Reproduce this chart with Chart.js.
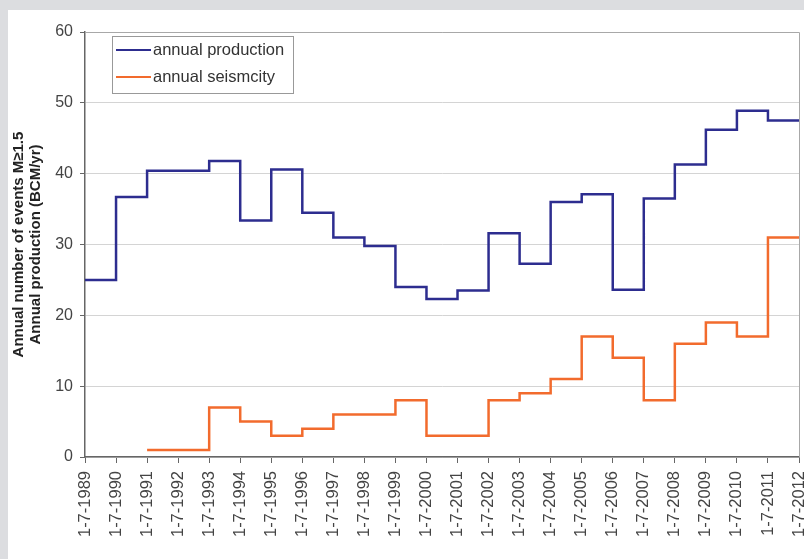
<!DOCTYPE html>
<html>
<head>
<meta charset="utf-8">
<script src="https://cdn.jsdelivr.net/npm/chart.js@4/dist/chart.umd.min.js"></script>
<style>
  html, body { margin: 0; padding: 0; background: #dcdde0; }
  body { width: 804px; height: 559px; overflow: hidden; position: relative; }
  #panel { position: absolute; left: 8px; top: 10px; width: 796px; height: 549px; background: #fff; }
</style>
</head>
<body>
<div id="panel"><canvas id="gasChart" width="796" height="549"></canvas></div>
<script>
// Jahreslabels (1. Juli jedes Jahres)
const years = ['1-7-1989','1-7-1990','1-7-1991','1-7-1992','1-7-1993','1-7-1994','1-7-1995','1-7-1996',
  '1-7-1997','1-7-1998','1-7-1999','1-7-2000','1-7-2001','1-7-2002','1-7-2003','1-7-2004','1-7-2005',
  '1-7-2006','1-7-2007','1-7-2008','1-7-2009','1-7-2010','1-7-2011','1-7-2012'];

// Werte pro Jahr (gilt jeweils bis zum nächsten 1. Juli)
const production = [25, 36.7, 40.4, 40.4, 41.8, 33.4, 40.6, 34.5, 31, 29.8, 24, 22.3, 23.5,
  31.6, 27.3, 36, 37.1, 23.6, 36.5, 41.3, 46.2, 48.9, 47.5];
const seismicity = [null, null, 1, 1, 7, 5, 3, 4, 6, 6, 8, 3, 3, 8, 9, 11, 17, 14, 8, 16, 19, 17, 31];

const yTicks = [0, 10, 20, 30, 40, 50, 60];

const blue = '#2d2d8f';
const orange = '#f26b2d';
const fontFamily = '"Liberation Sans", Arial, sans-serif';

// letzter Wert wird bis 2012 weitergezogen
function withEnd(arr) {
    return arr.concat([arr[arr.length - 1]]);
}

// Rahmen + Legende innerhalb der Plotfläche
const innerLegend = {
    id: 'innerLegend',
    afterDraw(chart) {
        const { ctx, chartArea } = chart;
        ctx.save();
        ctx.strokeStyle = '#a8a8a8';
        ctx.lineWidth = 1;
        ctx.beginPath();
        ctx.moveTo(chartArea.left, chartArea.top + 0.5);
        ctx.lineTo(chartArea.right + 0.5, chartArea.top + 0.5);
        ctx.lineTo(chartArea.right + 0.5, chartArea.bottom);
        ctx.stroke();

        const x = chartArea.left + 27;
        const y = chartArea.top + 4;
        ctx.fillStyle = '#fff';
        ctx.fillRect(x, y, 181, 57);
        ctx.strokeStyle = '#999';
        ctx.strokeRect(x + 0.5, y + 0.5, 181, 57);
        ctx.font = '16.5px ' + fontFamily;
        ctx.textBaseline = 'middle';
        chart.data.datasets.forEach((ds, i) => {
            const ly = y + 14 + i * 27;
            ctx.strokeStyle = ds.borderColor;
            ctx.lineWidth = 2;
            ctx.beginPath();
            ctx.moveTo(x + 4, ly);
            ctx.lineTo(x + 39, ly);
            ctx.stroke();
            ctx.fillStyle = '#333';
            ctx.fillText(ds.label, x + 41, ly);
        });
        ctx.restore();
    }
};

const ctx = document.getElementById('gasChart').getContext('2d');
new Chart(ctx, {
    type: 'line',
    data: {
        labels: years,
        datasets: [
            {
                label: 'annual production',
                data: withEnd(production),
                borderColor: blue,
                borderWidth: 2.5,
                stepped: true,
                pointRadius: 0,
                fill: false
            },
            {
                label: 'annual seismcity',
                data: withEnd(seismicity),
                borderColor: orange,
                borderWidth: 2.5,
                stepped: true,
                pointRadius: 0,
                fill: false
            }
        ]
    },
    options: {
        responsive: false,
        animation: false,
        layout: { padding: { left: 0, top: 22, right: 5, bottom: 0 } },
        plugins: {
            legend: { display: false },
            tooltip: { enabled: false }
        },
        scales: {
            x: {
                offset: false,
                grid: { drawOnChartArea: false, drawTicks: true, tickLength: 6, tickColor: '#666' },
                border: { display: true, color: '#666', width: 1.5 },
                ticks: {
                    autoSkip: false,
                    maxRotation: 90,
                    minRotation: 90,
                    padding: 8,
                    color: '#444',
                    font: { family: fontFamily, size: 16.5 }
                },
                afterFit(scale) {
                    scale.height = 102;
                    scale.paddingLeft = 0;
                    scale.paddingRight = 0;
                }
            },
            y: {
                min: 0,
                max: 60,
                afterBuildTicks(scale) { scale.ticks = yTicks.map(v => ({ value: v })); },
                grid: { color: '#d4d4d4', tickLength: 5, tickColor: '#666' },
                border: { display: true, color: '#666', width: 1.5 },
                ticks: {
                    padding: 7,
                    color: '#444',
                    font: { family: fontFamily, size: 16 }
                },
                title: {
                    display: true,
                    text: ['Annual number of events M≥1.5', 'Annual production (BCM/yr)'],
                    color: '#222',
                    padding: { top: 2.5, bottom: 0 },
                    font: { family: fontFamily, size: 15, weight: 'bold', lineHeight: 1.13 }
                },
                afterFit(scale) { scale.width = 77; }
            }
        }
    },
    plugins: [innerLegend]
});
</script>
</body>
</html>
